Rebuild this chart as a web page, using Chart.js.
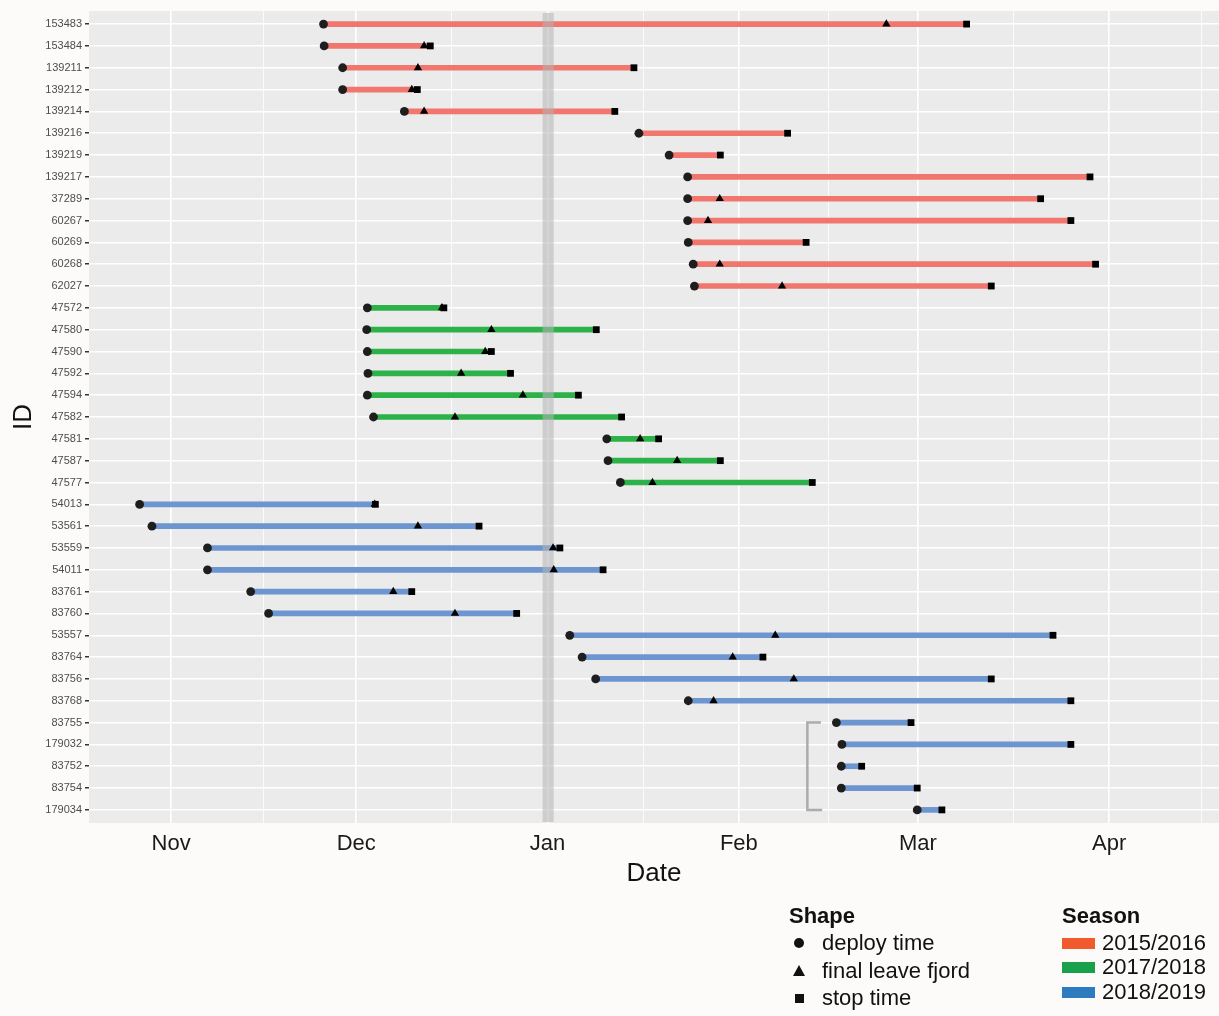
<!DOCTYPE html>
<html>
<head>
<meta charset="utf-8">
<script src="https://cdn.jsdelivr.net/npm/chart.js@4.4.0/dist/chart.umd.min.js"></script>
<style>
  html, body { margin: 0; padding: 0; background: #fcfbfa; overflow: hidden; }
  #wrap { position: relative; width: 1219px; height: 1016px; overflow: hidden; font-family: "Liberation Sans", Arial, sans-serif; color: #111; }
  #chart { position: absolute; left: 0; top: 0; }
  .lg { position: absolute; font-size: 22px; line-height: 22px; height: 22px; white-space: nowrap; }
  .lg-title { font-weight: bold; }
  .sym { position: absolute; }
  .sym.circle { width: 10px; height: 10px; border-radius: 50%; background: #111; }
  .sym.triangle { width: 0; height: 0; border-left: 6px solid transparent; border-right: 6px solid transparent; border-bottom: 11px solid #111; }
  .sym.square { width: 9px; height: 9px; background: #111; }
  .key { position: absolute; width: 33px; height: 11px; }
</style>
</head>
<body>
<div id="wrap">
  <canvas id="chart" width="1219" height="1016"></canvas>
  <div id="legend"></div>
</div>
<script>
// tag IDs, top to bottom
const ids = ['153483', '153484', '139211', '139212', '139214', '139216', '139219', '139217', '37289',
  '60267', '60269', '60268', '62027', '47572', '47580', '47590', '47592', '47594', '47582', '47581',
  '47587', '47577', '54013', '53561', '53559', '54011', '83761', '83760', '53557', '83764', '83756',
  '83768', '83755', '179032', '83752', '83754', '179034'];

const seasons = ['2015/2016', '2017/2018', '2018/2019'];
const rowSeason = [0, 0, 0, 0, 0, 0, 0, 0, 0, 0, 0, 0, 0,
  1, 1, 1, 1, 1, 1, 1, 1, 1,
  2, 2, 2, 2, 2, 2, 2, 2, 2, 2, 2, 2, 2, 2, 2];

// days after 1 Nov
const deployDay = [24.7, 24.8, 27.8, 27.8, 37.8, 75.8, 80.7, 83.7, 83.7, 83.7, 83.8, 84.6, 84.8,
  31.8, 31.7, 31.8, 31.9, 31.8, 32.8, 70.6, 70.8, 72.8,
  -5.1, -3.1, 5.9, 5.9, 12.9, 15.8, 64.6, 66.6, 68.8, 83.8, 107.8, 108.7, 108.6, 108.6, 120.9];
const leaveDay = [115.9, 41.0, 40.0, 39.0, 41.0, null, null, null, 88.9, 87.0, null, 88.9, 99.0,
  43.9, 51.9, 50.9, 47.0, 57.0, 46.0, 76.0, 82.0, 78.0,
  33.0, 40.0, 61.9, 62.0, 36.0, 46.0, 97.9, 91.0, 100.9, 87.9, null, null, null, null, null];
const stopDay = [128.9, 42.0, 75.0, 39.9, 71.9, 99.9, 89.0, 148.9, 140.9, 145.8, 102.9, 149.8, 132.9,
  44.2, 68.9, 51.9, 55.0, 66.0, 73.0, 79.0, 89.0, 103.9,
  33.1, 49.9, 63.0, 70.0, 39.0, 56.0, 142.9, 95.9, 132.9, 145.8, 119.9, 145.8, 111.9, 120.9, 124.9];

const monthDays = [0, 30, 61, 92, 121, 152];
const monthLabels = ['Nov', 'Dec', 'Jan', 'Feb', 'Mar', 'Apr'];

// new year band and the bracket next to the late 2018/2019 tags
const bandStart = 60.2, bandEnd = 62.0;
const bracketX = [105.3, 103.1, 103.1, 105.5];
const bracketY = [32, 32, 36, 36];

const shapeLabels = ['deploy time', 'final leave fjord', 'stop time'];
const lineColors = ['#f1766e', '#2db24a', '#6d95cf'];
const keyColors = ['#f15a2c', '#1aa04a', '#2e7cc0'];

const FONT = '"Liberation Sans", Arial, sans-serif';
const xMin = -13.3, xMax = 169.8;

// minor breaks half way between the months (and after Apr)
const minorDays = [];
for (let i = 0; i < monthDays.length - 1; i++) minorDays.push((monthDays[i] + monthDays[i + 1]) / 2);
minorDays.push(167);
const xTickValues = monthDays.concat(minorDays).sort((a, b) => a - b);
const isMajor = v => monthDays.includes(v);

const panelBg = {
  id: 'panelBg',
  beforeDraw(chart) {
    const { ctx, chartArea: a } = chart;
    ctx.save();
    ctx.fillStyle = '#ebebeb';
    ctx.fillRect(a.left, a.top, a.right - a.left, a.bottom - a.top);
    ctx.restore();
  }
};

const yearBand = {
  id: 'yearBand',
  afterDatasetDraw(chart, args) {
    if (args.index !== 0) return;
    const { ctx, chartArea: a, scales } = chart;
    const x0 = scales.x.getPixelForValue(bandStart);
    const x1 = scales.x.getPixelForValue(bandEnd);
    ctx.save();
    ctx.fillStyle = 'rgba(180,180,180,0.55)';
    ctx.fillRect(x0, a.top + 2, x1 - x0, a.bottom - a.top - 3);
    ctx.restore();
  }
};

const rows = ids.map((id, i) => i);

new Chart(document.getElementById('chart'), {
  data: {
    datasets: [
      {
        type: 'bar',
        label: 'segments',
        indexAxis: 'y',
        data: rows.map(i => ({ y: i, x: [deployDay[i], stopDay[i]] })),
        backgroundColor: rows.map(i => lineColors[rowSeason[i]]),
        barThickness: 5,
        borderWidth: 0,
        borderSkipped: false,
        order: 3,
      },
      {
        type: 'line',
        label: 'bracket',
        data: bracketX.map((x, i) => ({ x: x, y: bracketY[i] })),
        borderColor: '#acacac',
        borderWidth: 2.5,
        pointRadius: 0,
        fill: false,
        tension: 0,
        order: 2,
      },
      {
        type: 'scatter',
        label: shapeLabels[0],
        data: rows.map(i => ({ x: deployDay[i], y: i })),
        pointStyle: 'circle',
        pointRadius: 4.4,
        backgroundColor: '#1e1e1e',
        borderWidth: 0,
        order: 1,
      },
      {
        type: 'scatter',
        label: shapeLabels[1],
        data: rows.filter(i => leaveDay[i] !== null).map(i => ({ x: leaveDay[i], y: i })),
        pointStyle: 'triangle',
        pointRadius: 4.8,
        backgroundColor: '#000',
        borderWidth: 0,
        order: 0,
      },
      {
        type: 'scatter',
        label: shapeLabels[2],
        data: rows.map(i => ({ x: stopDay[i], y: i })),
        pointStyle: 'rect',
        pointRadius: 4.8,
        backgroundColor: '#000',
        borderWidth: 0,
        order: 0,
      },
    ],
  },
  options: {
    responsive: false,
    animation: false,
    events: [],
    layout: { autoPadding: false, padding: { top: 11, right: 0, bottom: 120, left: 0 } },
    plugins: {
      legend: { display: false },
      tooltip: { enabled: false },
    },
    scales: {
      x: {
        type: 'linear',
        offset: false,
        min: xMin,
        max: xMax,
        afterBuildTicks: s => { s.ticks = xTickValues.map(v => ({ value: v })); },
        afterFit: s => { s.height = 73; },
        ticks: {
          autoSkip: false,
          maxRotation: 0,
          padding: 0,
          color: '#1a1a1a',
          font: { family: FONT, size: 22 },
          callback: v => (isMajor(v) ? monthLabels[monthDays.indexOf(v)] : ''),
        },
        grid: {
          offset: false,
          color: '#ffffff',
          lineWidth: c => (isMajor(c.tick.value) ? 1.6 : 0.8),
          drawTicks: true,
          tickLength: 8,
          tickColor: 'rgba(0,0,0,0)',
        },
        border: { display: false },
        title: {
          display: true,
          text: 'Date',
          color: '#111',
          font: { family: FONT, size: 26 },
          padding: { top: 0, bottom: 7 },
        },
      },
      y: {
        type: 'linear',
        offset: false,
        reverse: true,
        min: -0.6,
        max: 36.6,
        afterBuildTicks: s => { s.ticks = rows.map(i => ({ value: i })); },
        afterFit: s => { s.width = 89; },
        ticks: {
          autoSkip: false,
          padding: 3,
          color: '#4d4d4d',
          font: { family: FONT, size: 11 },
          callback: v => ids[v],
        },
        grid: {
          offset: false,
          color: '#ffffff',
          lineWidth: 1.5,
          tickLength: 4,
          tickColor: '#333333',
        },
        border: { display: false },
        title: {
          display: true,
          text: 'ID',
          color: '#111',
          font: { family: FONT, size: 26 },
          padding: { top: 8, bottom: 0 },
        },
      },
    },
  },
  plugins: [panelBg, yearBand],
});

// legend below the panel (positions are centre lines of each entry)
const legend = document.getElementById('legend');
const shapeClasses = ['circle', 'triangle', 'square'];
const symHalf = [[5, 5], [6, 6], [4.5, 4.5]];
const shapeY = [943, 971, 998];
const seasonY = [943, 967, 992];
let html = '<div class="lg lg-title" style="left:789px;top:905px">Shape</div>';
shapeLabels.forEach((lab, i) => {
  html += `<div class="sym ${shapeClasses[i]}" style="left:${799 - symHalf[i][0]}px;top:${shapeY[i] - symHalf[i][1]}px"></div>`;
  html += `<div class="lg" style="left:822px;top:${shapeY[i] - 11}px">${lab}</div>`;
});
html += '<div class="lg lg-title" style="left:1062px;top:905px">Season</div>';
seasons.forEach((lab, i) => {
  html += `<div class="key" style="left:1062px;top:${seasonY[i] - 5.5}px;background:${keyColors[i]}"></div>`;
  html += `<div class="lg" style="left:1102px;top:${seasonY[i] - 11}px">${lab}</div>`;
});
legend.innerHTML = html;
</script>
</body>
</html>
